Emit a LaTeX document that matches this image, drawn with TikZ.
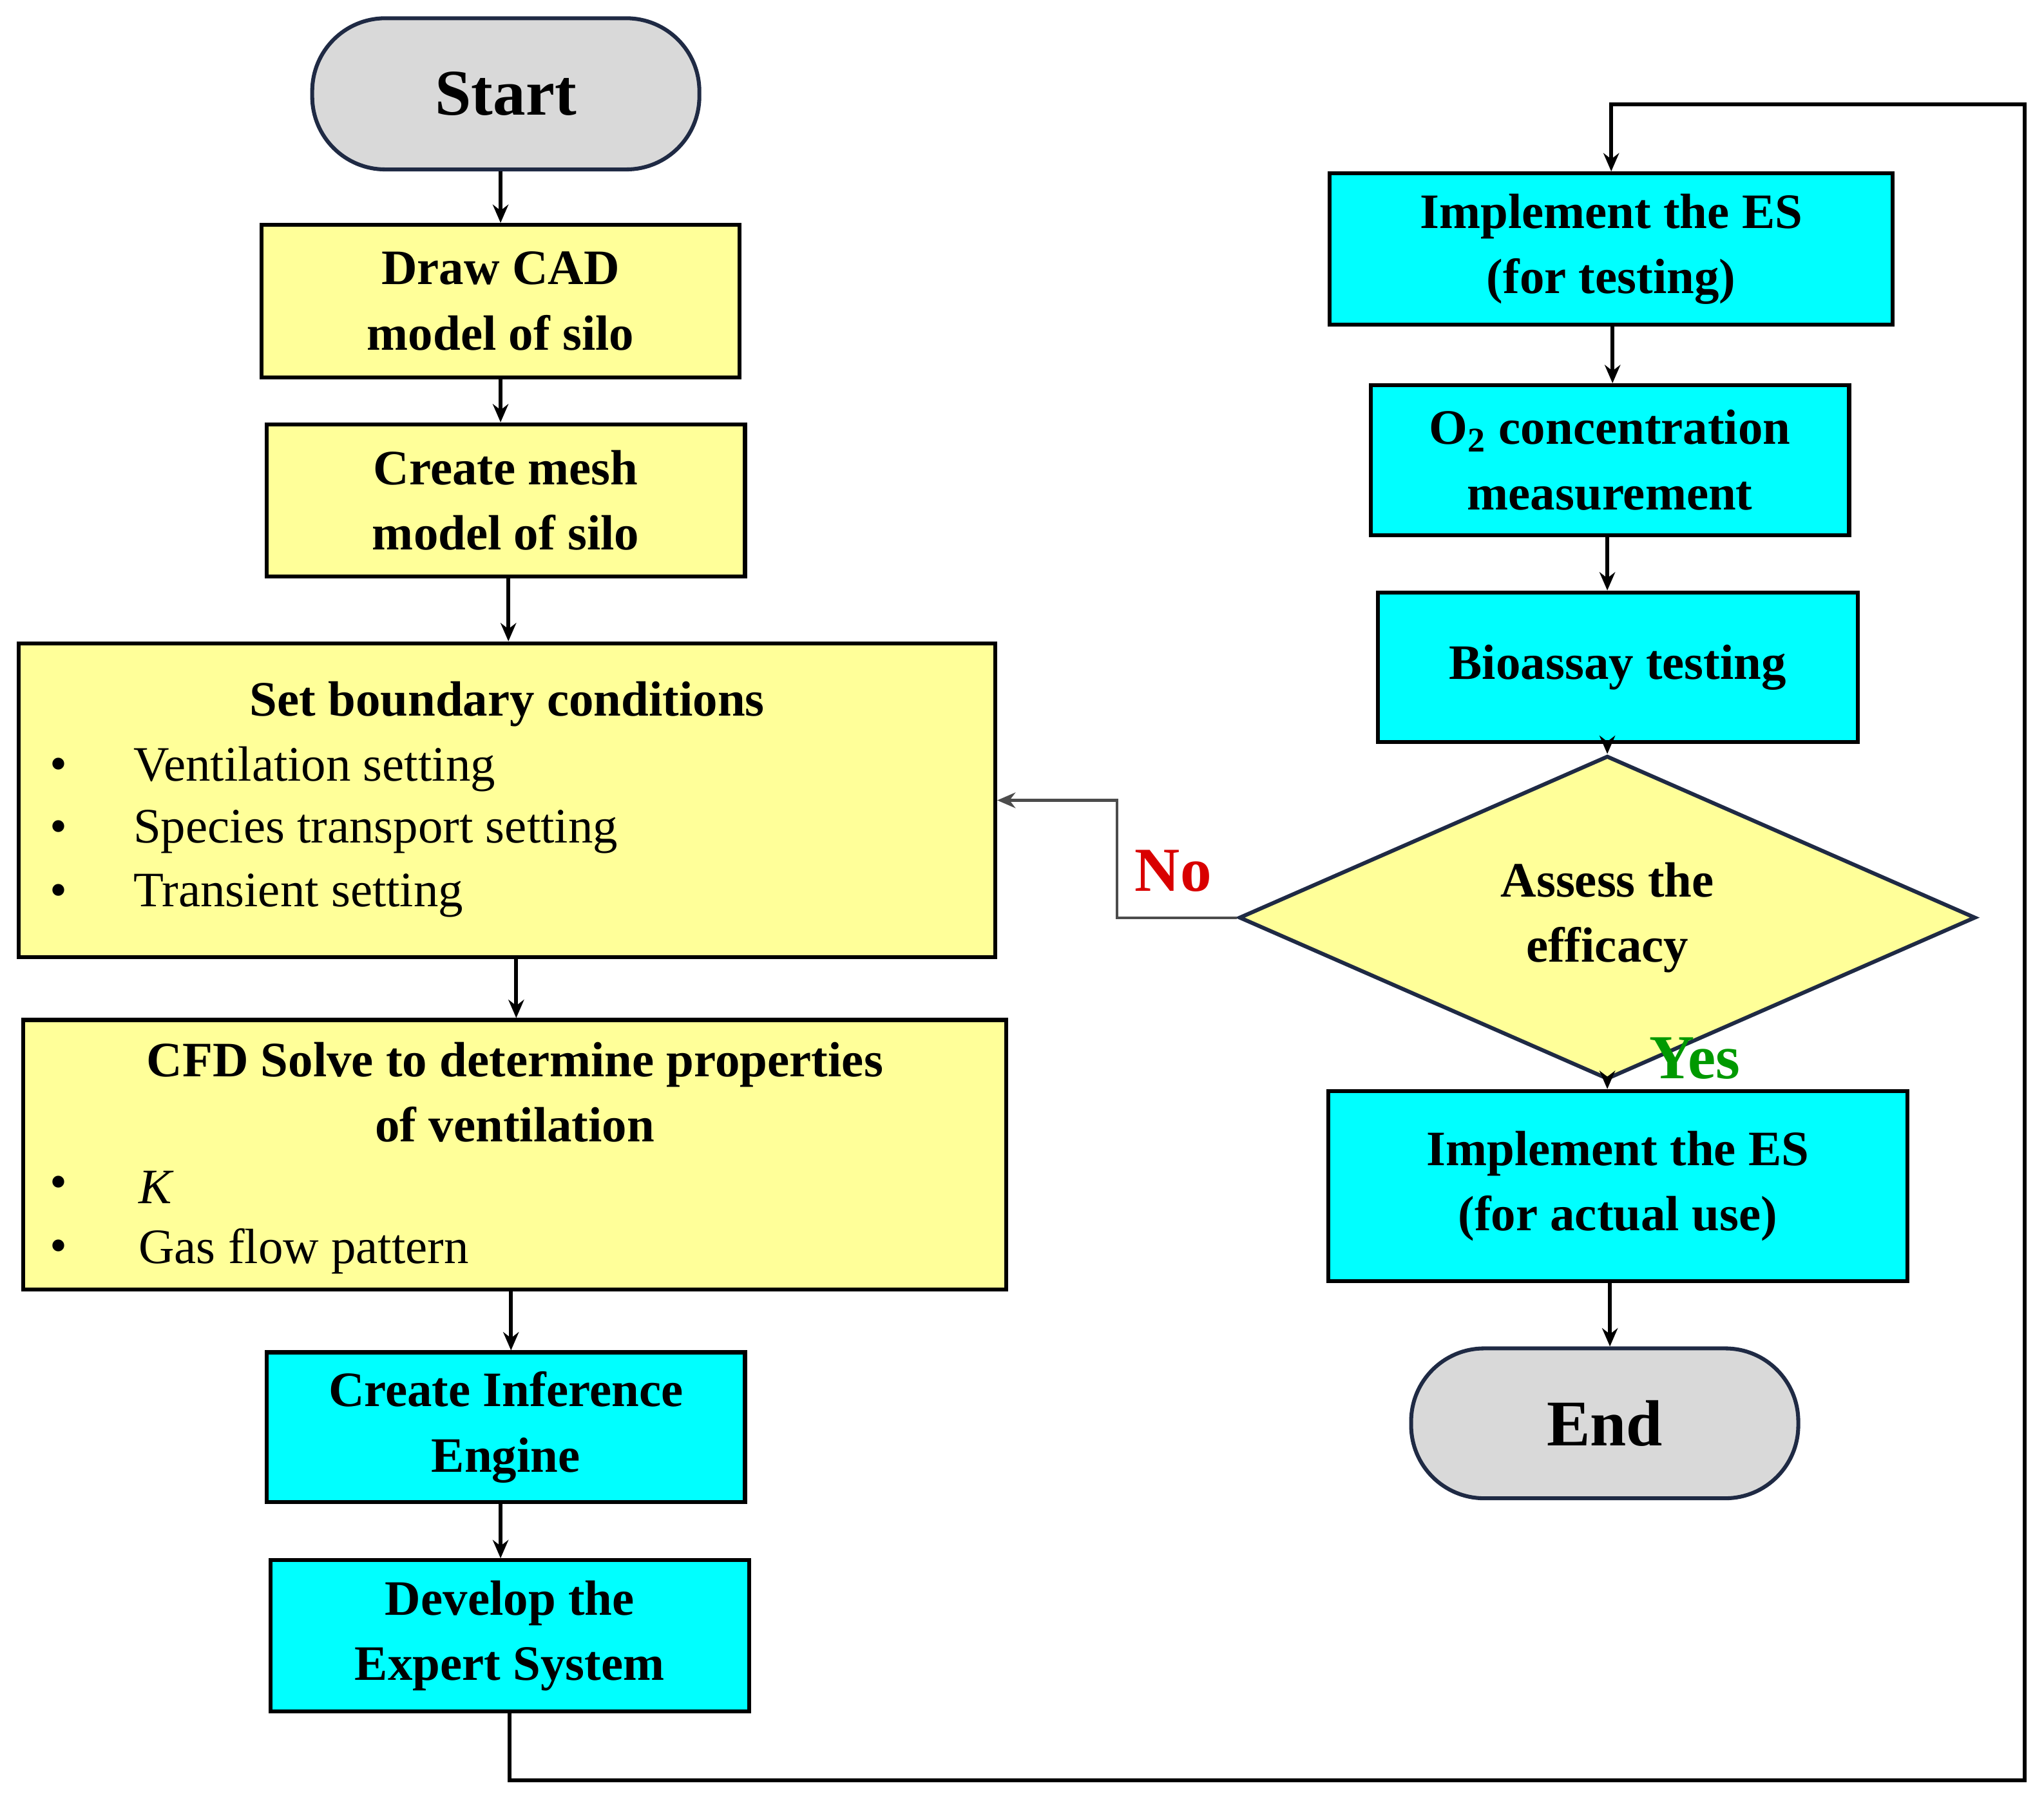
\documentclass[tikz,border=0pt]{standalone}
\usepackage{fontspec}
\setmainfont{Liberation Serif}
\usetikzlibrary{shapes.geometric,arrows.meta}
\definecolor{yel}{HTML}{FFFF99}
\definecolor{cy}{HTML}{00FFFF}
\definecolor{gr}{HTML}{D9D9D9}
\definecolor{bd}{HTML}{1F2A44}
\begin{document}
\begin{tikzpicture}[x=0.5pt,y=-0.5pt,
 box/.style={draw=black,line width=1.5pt,align=center,font=\bfseries\fontsize{19}{25}\selectfont,inner sep=0pt},
 yb/.style={box,fill=yel},
 cb/.style={box,fill=cy},
 term/.style={draw=bd,line width=1.5pt,fill=gr,rounded corners=28pt,font=\bfseries\fontsize{25}{30}\selectfont},
 arr/.style={line width=1.5pt,-{Stealth[length=7pt,width=6pt]}},
 txt/.style={font=\fontsize{19}{25}\selectfont,anchor=west,inner sep=0pt}]
\useasboundingbox (0,0) rectangle (1568,1380);
\node[term,minimum width=148.5pt,minimum height=58pt] (start) at (388,72) {Start};
\node[yb,minimum width=183.5pt,minimum height=58.5pt] (cad) at (384,231) {Draw CAD\\model of silo};
\node[yb,minimum width=183.5pt,minimum height=58.5pt] (mesh) at (388,384) {Create mesh\\model of silo};
\node[yb,minimum width=374.5pt,minimum height=120.5pt] (bc) at (389,614) {};
\node[font=\bfseries\fontsize{19}{25}\selectfont] (bct) at (389,540) {Set boundary conditions};
\node[txt] (b1) at (38,590) {•};\node[txt] (l1) at (102,590) {Ventilation setting};
\node[txt] (b2) at (38,638) {•};\node[txt] (l2) at (102,638) {Species transport setting};
\node[txt] (b3) at (38,687) {•};\node[txt] (l3) at (102,687) {Transient setting};
\node[yb,minimum width=377pt,minimum height=103.5pt] (cfd) at (395,886) {};
\node[align=center,font=\bfseries\fontsize{19}{25}\selectfont] (cfdt) at (395,838) {CFD Solve to determine properties\\of ventilation};
\node[txt] (b4) at (38,911) {•};\node[txt] (l4) at (106,911) {\itshape K};
\node[txt] (b5) at (38,960) {•};\node[txt] (l5) at (106,960) {Gas flow pattern};
\node[cb,minimum width=183.5pt,minimum height=57.5pt] (inf) at (388,1095) {Create Inference\\Engine};
\node[cb,minimum width=183.5pt,minimum height=58pt] (dev) at (391,1255) {Develop the\\Expert System};
\node[cb,minimum width=216pt,minimum height=58pt] (es1) at (1236,191) {Implement the ES\\(for testing)};
\node[cb,minimum width=183.5pt,minimum height=57.5pt] (o2) at (1235,353) {O\textsubscript{2} concentration\\measurement};
\node[cb,minimum width=184pt,minimum height=57.5pt] (bio) at (1241,512) {Bioassay testing};
\node[diamond,draw=bd,line width=1.5pt,fill=yel,minimum width=282.5pt,minimum height=93.5pt,inner sep=0pt,font=\bfseries\fontsize{19}{25}\selectfont,align=center] (dia) at (1233,704) {Assess the\\efficacy};
\node[cb,minimum width=222pt,minimum height=73pt] (es2) at (1241,910) {Implement the ES\\(for actual use)};
\node[term,minimum width=148.5pt,minimum height=57.5pt] (end) at (1231,1092) {End};
\draw[arr] (start.south -| 384,0) -- (cad.north -| 384,0);
\draw[arr] (cad.south -| 384,0) -- (mesh.north -| 384,0);
\draw[arr] (mesh.south -| 390,0) -- (bc.north -| 390,0);
\draw[arr] (bc.south -| 396,0) -- (cfd.north -| 396,0);
\draw[arr] (cfd.south -| 392,0) -- (inf.north -| 392,0);
\draw[arr] (inf.south -| 384,0) -- (dev.north -| 384,0);
\coordinate (c1) at (391,1366);\coordinate (c2) at (1553,1366);
\coordinate (c3) at (1553,80);\coordinate (c4) at (1236,80);
\draw[arr] (dev.south -| 391,0) -- (c1) -- (c2) -- (c3) -- (c4) -- (es1.north -| 1236,0);
\draw[arr] (es1.south -| 1237,0) -- (o2.north -| 1237,0);
\draw[arr] (o2.south -| 1233,0) -- (bio.north -| 1233,0);
\draw[arr] (bio.south -| 1233,0) -- (dia.north);
\draw[arr] (dia.south) -- (es2.north -| dia.south);
\draw[arr] (es2.south -| 1235,0) -- (end.north -| 1235,0);
\coordinate (n1) at (857,704);\coordinate (n2) at (857,614);
\draw[line width=1pt,draw=black!70,-{Stealth[length=7pt,width=6pt]}] (dia.west) -- (n1) -- (n2) -- (bc.east);
\node[text=red!85!black,font=\bfseries\fontsize{24}{28}\selectfont] (no) at (900,668) {No};
\node[text=green!60!black,font=\bfseries\fontsize{24}{28}\selectfont] (yes) at (1300,812) {Yes};
\end{tikzpicture}
\end{document}
